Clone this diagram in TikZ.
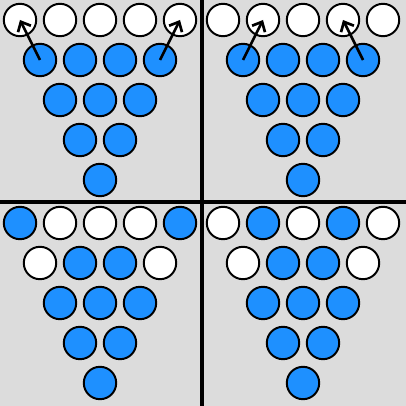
\documentclass[tikz,border=0pt]{standalone}
\usetikzlibrary{arrows.meta}
\definecolor{pegblue}{RGB}{30,144,255}
\definecolor{boardgrey}{RGB}{220,220,220}
\tikzset{ball/.style={circle,draw,line width=1.4pt,minimum size=0.81cm,inner sep=0,outer sep=0},
  peg/.style={ball,fill=pegblue},
  hole/.style={ball,fill=white},
  jump/.style={line width=1.9pt,-{Straight Barb[length=0.2cm,width=0.36cm]}}}

\begin{document}
\begin{tikzpicture}[x=0.025cm,y=-0.025cm]
 \fill[boardgrey] (0,0) rectangle (406,406);
 \useasboundingbox (0,0) rectangle (406,406);
 % lower rows are full in every board
 \foreach \q/\ox/\oy in {a/0/0,b/203/0,c/0/203,d/203/203}{
   \foreach \r in {2,3,4}{
     \pgfmathtruncatemacro{\n}{4-\r}
     \foreach \k in {0,...,\n}{
       \node[peg] (\q\r\k) at (\ox+20+20*\r+40*\k,\oy+20+40*\r) {};
     }
   }
 }
 % top two rows
 \foreach \q/\ox/\oy/\rowa/\rowb in {a/0/0/{hole,hole,hole,hole,hole}/{peg,peg,peg,peg},
     b/203/0/{hole,hole,hole,hole,hole}/{peg,peg,peg,peg},
     c/0/203/{peg,hole,hole,hole,peg}/{hole,peg,peg,hole},
     d/203/203/{hole,peg,hole,peg,hole}/{hole,peg,peg,hole}}{
   \foreach \s [count=\k from 0] in \rowa
     \node[\s] (\q0\k) at (\ox+20+40*\k,\oy+20) {};
   \foreach \s [count=\k from 0] in \rowb
     \node[\s] (\q1\k) at (\ox+40+40*\k,\oy+60) {};
 }
 \draw[line width=2.2pt] (202,0) -- (202,406);
 \draw[line width=2.2pt] (0,202) -- (406,202);
 \draw[jump] (a10.center) -- (a00.center);
 \draw[jump] (a13.center) -- (a04.center);
 \draw[jump] (b10.center) -- (b01.center);
 \draw[jump] (b13.center) -- (b03.center);
\end{tikzpicture}
\end{document}
